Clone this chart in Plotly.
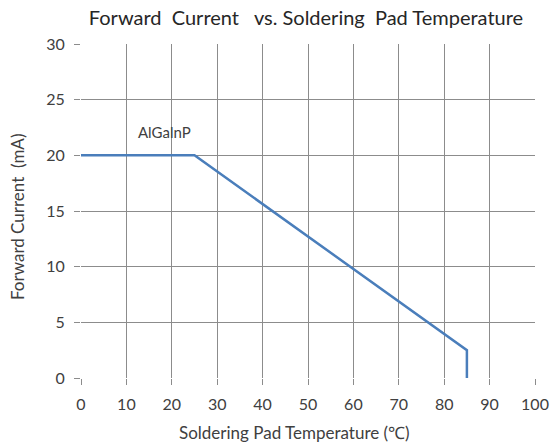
import plotly.graph_objects as go

temp = [0, 25, 85, 85]
current = [20, 20, 2.5, 0]
x_ticks = [0, 10, 20, 30, 40, 50, 60, 70, 80, 90, 100]
y_ticks = [0, 5, 10, 15, 20, 25, 30]
label = "AlGalnP"
label_pos = (18.5, 22.1)

W, H = 550, 444

fig = go.Figure()
fig.add_trace(go.Scatter(x=temp, y=current, mode="lines",
                         line=dict(color="#4a7ebb", width=2.5), showlegend=False))
fig.add_annotation(x=label_pos[0], y=label_pos[1], text=label, showarrow=False,
                   font=dict(size=15, color="#404040"))

axis_common = dict(showgrid=True, gridcolor="#8c8c8c", gridwidth=1,
                   zeroline=False, showline=False, automargin=False,
                   ticks="outside", ticklen=6, tickwidth=1, tickcolor="#8c8c8c",
                   tickfont=dict(size=16, color="#404040"))
fig.update_xaxes(range=[0, 100], tickvals=x_ticks, ticklabelstandoff=6, **axis_common)
fig.update_yaxes(range=[0, 30], tickvals=y_ticks, ticklabelstandoff=6, **axis_common)

fig.add_annotation(xref="paper", yref="paper", x=0.471, y=0, yshift=-54,
                   text="Soldering Pad Temperature (℃)", showarrow=False,
                   font=dict(size=17, color="#404040"), yanchor="middle")
fig.add_annotation(xref="paper", yref="paper", x=0, xshift=-64, y=0.482,
                   text="Forward Current  (mA)", showarrow=False, textangle=-90,
                   font=dict(size=17, color="#404040"), xanchor="center")

fig.update_layout(
    width=W, height=H,
    margin=dict(l=81, r=15, t=44, b=66),
    paper_bgcolor="white", plot_bgcolor="white",
    font=dict(family="Lato, Open Sans, sans-serif", color="#404040"),
    title=dict(text="Forward  Current   vs. Soldering  Pad Temperature",
               x=306 / W, xanchor="center", xref="container",
               y=1 - 18 / H, yanchor="middle", font=dict(size=20, color="#262626")),
)
fig.write_html("out.html", config={"displayModeBar": False},
               post_script="document.body.style.margin='0';document.body.style.overflow='hidden';")
